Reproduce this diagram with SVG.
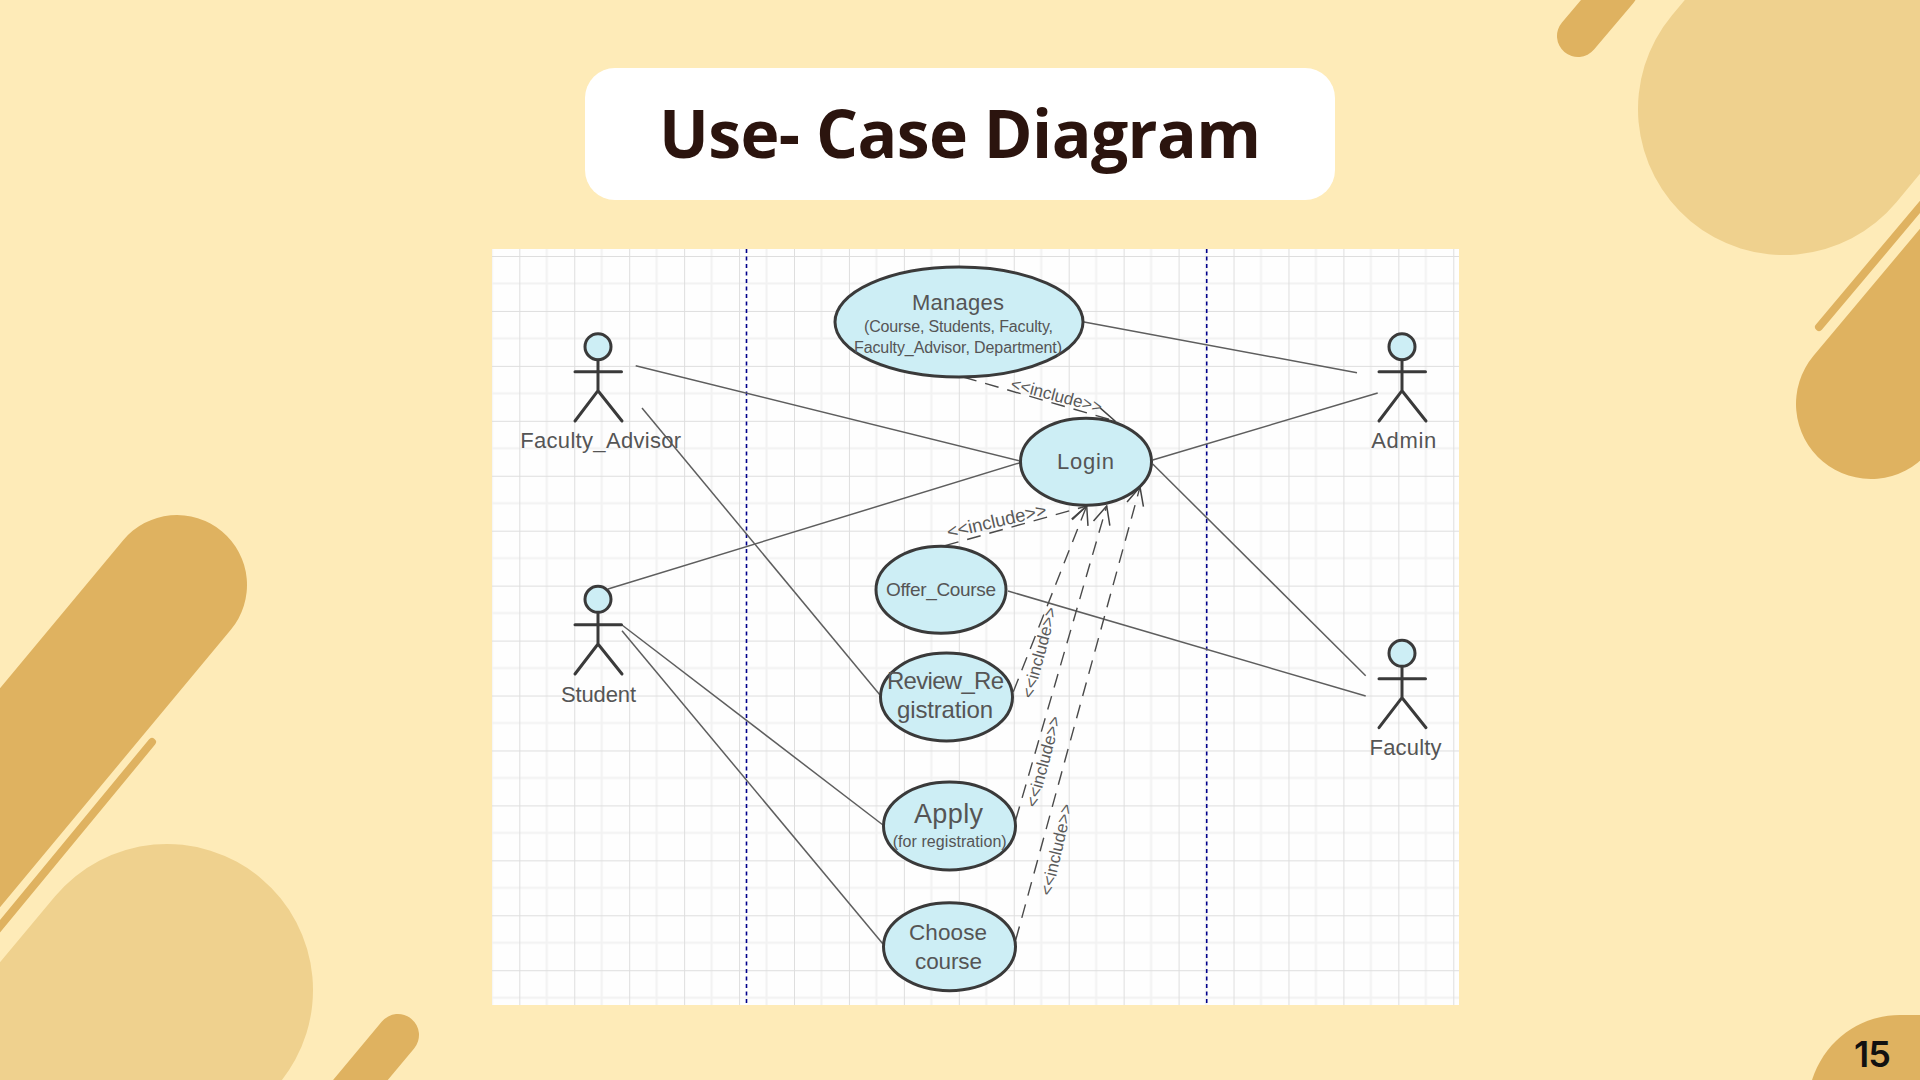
<svg xmlns="http://www.w3.org/2000/svg" width="1920" height="1080" viewBox="0 0 1920 1080">
<style>
.deco{fill:none;stroke-linecap:round}
.dark{stroke:#DFB260}
.lite{stroke:#EFD18E}
.uc{fill:#CDEEF5;stroke:#3A3A3A;stroke-width:3}
.a{fill:#CDEEF5;stroke:#3A3A3A;stroke-width:3;stroke-linecap:round}
.t{font-family:"Liberation Sans",Arial,sans-serif;fill:#555;text-anchor:start}
.inc{font-family:"Liberation Sans",Arial,sans-serif;fill:#5A5A5A;font-size:17px;text-anchor:middle}
.assoc{stroke:#5E5E5E;stroke-width:1.5;fill:none}
.dep{stroke:#4A4A4A;stroke-width:1.4;fill:none;stroke-dasharray:14 9;marker-end:url(#open)}
.lane{stroke:#00008B;stroke-width:1.6;stroke-dasharray:4 3.5}
</style>
<defs>
<marker id="open" markerUnits="userSpaceOnUse" markerWidth="24" markerHeight="22" refX="21" refY="11" orient="auto">
<path d="M3,2.5 L21,11 L3,19.5" fill="none" stroke="#444" stroke-width="1.5"/>
</marker>
<pattern id="grid" patternUnits="userSpaceOnUse" x="519.3" y="256" width="54.94" height="54.94">
<path d="M27.47,0V54.94M0,27.47H54.94" stroke="#F2F2F2" stroke-width="2" fill="none"/>
<path d="M0,0V54.94M0,0H54.94" stroke="#DEDEDE" stroke-width="2" fill="none"/>
</pattern>
</defs>
<rect width="1920" height="1080" fill="#FEEBB8"/>
<g id="decor">
<path class="deco lite" stroke-width="292" d="M1784,109L1984,-131"/>
<path class="deco dark" stroke-width="150" d="M1871,404L2000,250"/>
<path class="deco dark" stroke-width="8" d="M1819,327L1930,195"/>
<path class="deco dark" stroke-width="42" d="M1578,36L1617,-10"/>
<path class="deco dark" stroke-width="140" d="M177,585L-100,918"/>
<path class="deco dark" stroke-width="8" d="M152,742L-8,936"/>
<path class="deco lite" stroke-width="292" d="M167,990L-100,1310"/>
<path class="deco dark" stroke-width="42" d="M398,1035L302,1150"/>
<path fill="#DFB260" d="M1812,1080C1825,1040 1860,1015 1900,1015L1920,1015L1920,1080Z"/>
</g>
<g id="page-number"><text x="1854" y="1067" font-family="Inter,'Noto Sans',sans-serif" font-weight="600" font-size="36" fill="#111" textLength="37">15</text></g>
<g id="title">
<rect x="585" y="68" width="750" height="132" rx="30" ry="30" fill="#FFFFFF"/>
<text x="659" y="158" font-family="'Open Sans','Noto Sans',sans-serif" font-weight="700" font-size="66" fill="#2B140E" textLength="602">Use- Case Diagram</text>
</g>
<g id="canvas">
<rect x="492" y="249" width="967" height="756" fill="#FEFEFE"/>
<rect x="492" y="249" width="967" height="756" fill="url(#grid)"/>
<path class="lane" d="M746.5,249V1005M1206.7,249V1005"/>
</g>
<g id="connectors">
<path class="assoc" d="M635.7,365.7L1019,460.7"/>
<path class="assoc" d="M642,408L880,695"/>
<path class="assoc" d="M608,589L1020,462.7"/>
<path class="assoc" d="M622,625L883,825"/>
<path class="assoc" d="M622,630.7L883,944"/>
<path class="assoc" d="M1082.7,321.7L1357,372.7"/>
<path class="assoc" d="M1152.7,460L1377.7,393"/>
<path class="assoc" d="M1152.7,464L1365.7,675.7"/>
<path class="assoc" d="M1008,591L1365.7,696"/>
<path class="dep" d="M963,377L1115,421"/>
<path class="dep" d="M945,545.7L1086.7,506"/>
<path class="dep" d="M1013.3,691.7L1086.7,506"/>
<path class="dep" d="M1015.7,820L1106.7,506"/>
<path class="dep" d="M1015.7,940L1140,487"/>
<text class="inc" transform="translate(1055,401) rotate(14.8)">&lt;&lt;include&gt;&gt;</text>
<text class="inc" style="font-size:18.5px" transform="translate(998,527) rotate(-13)">&lt;&lt;include&gt;&gt;</text>
<text class="inc" transform="translate(1045,654) rotate(-75)">&lt;&lt;include&gt;&gt;</text>
<text class="inc" transform="translate(1049,763) rotate(-75)">&lt;&lt;include&gt;&gt;</text>
<text class="inc" transform="translate(1062,851) rotate(-77)">&lt;&lt;include&gt;&gt;</text>
</g>
<g id="manages"><ellipse class="uc" cx="959" cy="322" rx="124" ry="55"/>
<text class="t" x="912" y="310" font-size="22" textLength="92">Manages</text>
<text class="t" x="864" y="332" font-size="16" textLength="189">(Course, Students, Faculty,</text>
<text class="t" x="854" y="352.5" font-size="16" textLength="208">Faculty_Advisor, Department)</text></g>
<g id="login"><ellipse class="uc" cx="1086" cy="461.7" rx="65.5" ry="43.5"/>
<text class="t" x="1057" y="469" font-size="22" textLength="57">Login</text></g>
<g id="offer-course"><ellipse class="uc" cx="941" cy="589.7" rx="65" ry="43.5"/>
<text class="t" x="886" y="596" font-size="19" textLength="110">Offer_Course</text></g>
<g id="review-registration"><ellipse class="uc" cx="946.5" cy="697" rx="66" ry="44"/>
<text class="t" x="887" y="689" font-size="24" textLength="117">Review_Re</text>
<text class="t" x="897" y="718" font-size="24" textLength="96">gistration</text></g>
<g id="apply"><ellipse class="uc" cx="949.5" cy="826" rx="66" ry="44"/>
<text class="t" x="914" y="823" font-size="27" textLength="69">Apply</text>
<text class="t" x="892.7" y="846.7" font-size="16" textLength="114">(for registration)</text></g>
<g id="choose-course"><ellipse class="uc" cx="949.5" cy="946.7" rx="66" ry="44"/>
<text class="t" x="909" y="940" font-size="22.5" textLength="78">Choose</text>
<text class="t" x="915" y="968.7" font-size="22.5" textLength="67">course</text></g>
<g id="faculty-advisor"><circle class="a" cx="598" cy="346.7" r="13"/>
<path class="a" style="fill:none" d="M598,360V390.7M575,371.7H621.5M575,421L598,390.7L622,421"/>
<text class="t" x="520.2" y="448" font-size="22" textLength="161">Faculty_Advisor</text></g>
<g id="admin"><circle class="a" cx="1402" cy="346.7" r="13"/>
<path class="a" style="fill:none" d="M1402,360V390.7M1379,371.7H1425.5M1379,421L1402,390.7L1426,421"/>
<text class="t" x="1371.2" y="448" font-size="22" textLength="65">Admin</text></g>
<g id="student"><circle class="a" cx="598" cy="599.3" r="13"/>
<path class="a" style="fill:none" d="M598,612.5V644M575,624.7H621.5M575,674L598,644L622,674"/>
<text class="t" x="561" y="702" font-size="22" textLength="75">Student</text></g>
<g id="faculty"><circle class="a" cx="1402" cy="653.3" r="13"/>
<path class="a" style="fill:none" d="M1402,666.5V697.7M1379,678.7H1425.5M1379,727.7L1402,697.7L1426,727.7"/>
<text class="t" x="1369.5" y="755" font-size="22" textLength="72">Faculty</text></g>
</svg>
